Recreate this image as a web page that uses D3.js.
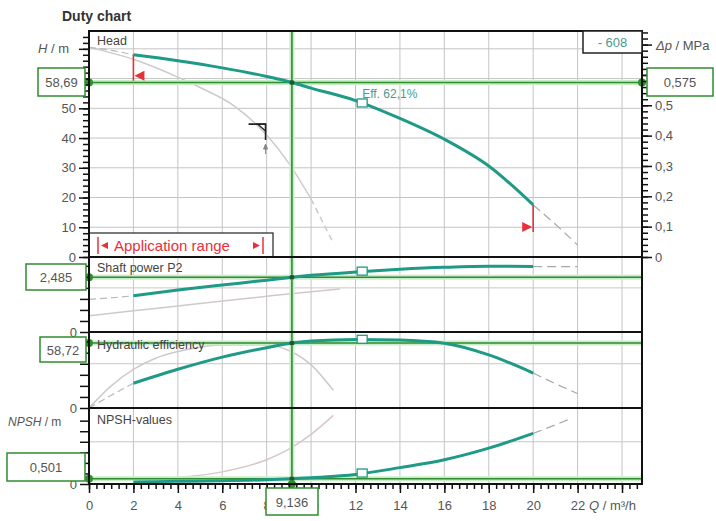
<!DOCTYPE html>
<html>
<head>
<meta charset="utf-8">
<script src="https://cdn.jsdelivr.net/npm/d3@7"></script>
<style>
body{margin:0;background:#fff}
text{font-family:"Liberation Sans",Arial,sans-serif}
</style>
</head>
<body>
<div id="chart"></div>
<script>

// curve values (Q in m3/h)

var qMain = [2, 4, 6, 8, 9.136, 10, 12, 14, 16, 18, 20],
    headMain = [68, 66, 63.6, 60.7, 58.69, 56.8, 52.6, 46.6, 39.6, 30.6, 17.5],
    powerMain = [1.64, 1.9, 2.13, 2.35, 2.485, 2.57, 2.72, 2.84, 2.93, 2.98, 2.97],
    effMain = [22.4, 35, 46, 54.5, 58.72, 60.5, 62, 61.5, 58.5, 48, 31.6],
    npshMain = [0.2, 0.25, 0.3, 0.4, 0.5, 0.6, 0.9, 1.55, 2.3, 3.4, 4.8];

// dashed extensions outside the application range
var qStart = [0, 1, 2],
    headStart = [70.5, 69.5, 68],
    powerStart = [1.48, 1.55, 1.64],
    effStart = [0, 11.5, 22.4],
    qEnd = [20, 21, 22],
    headEnd = [17.5, 11, 4],
    powerEnd = [2.97, 2.96, 2.96],
    effEnd = [31.6, 22, 13],
    qEndN = [20, 21, 21.7],
    npshEnd = [4.8, 5.6, 6.2];

// the faint second set of curves
var qLowHead = [0, 2, 4, 5, 6.5, 8, 9, 10, 11],
    headLow = [70.5, 66.5, 60.5, 57, 51, 41, 31.5, 19.5, 4.7],
    qLowPow = [0, 2, 4, 6, 8, 10, 11.3],
    powerLow = [0.73, 0.96, 1.18, 1.4, 1.62, 1.83, 1.95],
    qLowEff = [0, 1, 2, 3, 4, 6, 8, 9, 10, 11],
    effLow = [0, 20, 35, 45, 51, 57, 57, 52, 39, 16],
    qLowN = [2, 4, 6, 8, 9, 10, 11],
    npshLow = [0.3, 0.6, 1.15, 2.3, 3.3, 4.7, 6.5];

// duty point and best efficiency point
var dutyQ = 9.136, dutyH = 58.69, dutyDp = 0.575, dutyP = 2.485, dutyEff = 58.72, dutyN = 0.501;
var bepQ = 12.3, bepH = 51.8, bepP = 2.76, bepEff = 62.1, bepN = 1.04;

var qTicks = d3.range(0, 25, 2),
    headTicks = d3.range(0, 61, 10),
    dpTicks = [0, 0.1, 0.2, 0.3, 0.4, 0.5];

var svg = d3.select('#chart').append('svg')
    .attr('width', 716)
    .attr('height', 521);

var x = d3.scaleLinear().domain([0, 24.9]).range([89, 642]),
    yHead = d3.scaleLinear().domain([0, 76]).range([257, 31]),
    yDp = d3.scaleLinear().domain([0, 76 * 0.0098]).range([257, 31]),
    yPow = d3.scaleLinear().domain([0, 3.4]).range([332, 257]),
    yEff = d3.scaleLinear().domain([0, 68.7]).range([408, 332]),
    yNpsh = d3.scaleLinear().domain([0, 7.2]).range([484, 408]);

var comma = function(v){ return String(v).replace('.', ','); };

var teal = '#1f9a86', grid = '#c4c4c4', faint = '#cfcaca',
    green = '#2f8c2f', textCol = '#555';

// grid
svg.append('g').selectAll('line').data(qTicks.slice(1))
    .join('line')
    .attr('x1', d => x(d)).attr('x2', d => x(d))
    .attr('y1', 31).attr('y2', 484)
    .attr('stroke', grid);

svg.append('g').selectAll('line').data(d3.range(10, 71, 10))
    .join('line')
    .attr('x1', 89).attr('x2', 642)
    .attr('y1', d => yHead(d)).attr('y2', d => yHead(d))
    .attr('stroke', grid);

[[yPow, 2], [yEff, 40], [yNpsh, 4]].forEach(function(g){
    svg.append('line')
        .attr('x1', 89).attr('x2', 642)
        .attr('y1', g[0](g[1])).attr('y2', g[0](g[1]))
        .attr('stroke', '#cfc4c4');
});

// application range box
svg.append('rect')
    .attr('x', 89).attr('y', 233).attr('width', 184).attr('height', 24)
    .attr('fill', '#fff').attr('stroke', '#222').attr('stroke-width', 1.2);
svg.append('line').attr('x1', 98).attr('x2', 98).attr('y1', 237).attr('y2', 254)
    .attr('stroke', '#e8303a').attr('stroke-width', 1.5);
svg.append('line').attr('x1', 263).attr('x2', 263).attr('y1', 237).attr('y2', 254)
    .attr('stroke', '#e8303a').attr('stroke-width', 1.5);
svg.append('path').attr('d', 'M101,245.5L108,242L108,249Z').attr('fill', '#e8303a');
svg.append('path').attr('d', 'M260,245.5L253,242L253,249Z').attr('fill', '#e8303a');
svg.append('text').attr('x', 114).attr('y', 251)
    .attr('font-size', 15).attr('fill', '#e8303a')
    .text('Application range');

// curves
function curve(xs, ys, yScale, color, w, dash){
    var pts = xs.map((q, i) => ({x: q, y: ys[i]}));
    svg.append('path')
        .datum(pts)
        .attr('d', d3.line().curve(d3.curveMonotoneX)
            .x(d => x(d.x))
            .y(d => yScale(d.y)))
        .attr('fill', 'none')
        .attr('stroke', color)
        .attr('stroke-width', w)
        .attr('stroke-dasharray', dash || null);
}

curve(qLowHead.slice(0, 8), headLow.slice(0, 8), yHead, faint, 1.5);
curve(qLowHead.slice(7), headLow.slice(7), yHead, faint, 1.5, '6,4');
curve(qLowPow, powerLow, yPow, faint, 1.5);
curve(qLowEff, effLow, yEff, faint, 1.5);
curve(qLowN, npshLow, yNpsh, '#d8c6c8', 1.5);

curve(qStart, headStart, yHead, '#b8b8b8', 1.2, '7,4');
curve(qStart, powerStart, yPow, '#b8b8b8', 1.2, '7,4');
curve(qStart, effStart, yEff, '#b8b8b8', 1.2, '7,4');
curve(qEnd, headEnd, yHead, '#a8a8a8', 1.2, '9,5');
curve(qEnd, powerEnd, yPow, '#a8a8a8', 1.2, '9,5');
curve(qEnd, effEnd, yEff, '#a8a8a8', 1.2, '9,5');
curve(qEndN, npshEnd, yNpsh, '#a8a8a8', 1.2, '9,5');

// duty lines (light halo under a dark green line)
function greenH(y){
    svg.append('line').attr('x1', 89).attr('x2', 642).attr('y1', y).attr('y2', y)
        .attr('stroke', '#c8ecc8').attr('stroke-width', 5);
    svg.append('line').attr('x1', 89).attr('x2', 642).attr('y1', y).attr('y2', y)
        .attr('stroke', green).attr('stroke-width', 1.6);
}
svg.append('line').attr('x1', x(dutyQ)).attr('x2', x(dutyQ)).attr('y1', 31).attr('y2', 484)
    .attr('stroke', '#c8ecc8').attr('stroke-width', 5);
svg.append('line').attr('x1', x(dutyQ)).attr('x2', x(dutyQ)).attr('y1', 31).attr('y2', 484)
    .attr('stroke', green).attr('stroke-width', 1.6);
greenH(yHead(dutyH));
greenH(yPow(dutyP));
greenH(yEff(dutyEff));
greenH(yNpsh(dutyN));

curve(qMain, headMain, yHead, teal, 3);
curve(qMain, powerMain, yPow, teal, 3);
curve(qMain, effMain, yEff, teal, 3);
curve(qMain, npshMain, yNpsh, teal, 3);

// best efficiency markers
[[yHead, bepH], [yPow, bepP], [yEff, bepEff], [yNpsh, bepN]].forEach(function(m){
    svg.append('rect')
        .attr('x', x(bepQ) - 5).attr('y', m[0](m[1]) - 4)
        .attr('width', 10).attr('height', 8)
        .attr('fill', '#fff').attr('stroke', teal).attr('stroke-width', 1.3);
});
svg.append('text').attr('x', x(bepQ)).attr('y', 98)
    .attr('font-size', 12).attr('fill', '#4a9a90')
    .text('Eff.  62,1%');

// duty point dots
[[yHead, dutyH], [yPow, dutyP], [yEff, dutyEff], [yNpsh, dutyN]].forEach(function(m){
    svg.append('circle').attr('cx', x(dutyQ)).attr('cy', m[0](m[1])).attr('r', 2.5).attr('fill', '#1d5a2a');
    svg.append('circle').attr('cx', 89).attr('cy', m[0](m[1])).attr('r', 4).attr('fill', green);
});
svg.append('circle').attr('cx', 642).attr('cy', yHead(dutyH)).attr('r', 4).attr('fill', green);
svg.append('circle').attr('cx', x(dutyQ)).attr('cy', 484).attr('r', 4).attr('fill', green);

// application range limits on the head curve
svg.append('line').attr('x1', x(2)).attr('x2', x(2))
    .attr('y1', yHead(headMain[0])).attr('y2', yHead(headMain[0]) + 26)
    .attr('stroke', '#e8303a').attr('stroke-width', 1.6);
svg.append('path')
    .attr('d', 'M' + (x(2) + 1) + ',' + (yHead(headMain[0]) + 21) + 'l10,-5l0,10Z')
    .attr('fill', '#e8303a');
svg.append('line').attr('x1', x(20)).attr('x2', x(20))
    .attr('y1', yHead(17.5)).attr('y2', yHead(17.5) + 27)
    .attr('stroke', '#e8303a').attr('stroke-width', 1.6);
svg.append('path')
    .attr('d', 'M' + (x(20) - 1) + ',' + (yHead(17.5) + 22) + 'l-10,-5l0,10Z')
    .attr('fill', '#e8303a');

// small flag mark on the faint head curve
var fx = x(7.95), fy = yHead(44.7);
svg.append('path')
    .attr('d', 'M' + (fx - 17) + ',' + fy + 'L' + fx + ',' + fy + 'L' + fx + ',' + (fy + 16))
    .attr('fill', 'none').attr('stroke', '#222').attr('stroke-width', 1.6);
svg.append('path')
    .attr('d', 'M' + (fx - 8) + ',' + fy + 'L' + fx + ',' + fy + 'L' + fx + ',' + (fy + 7) + 'Z')
    .attr('fill', 'none').attr('stroke', '#222').attr('stroke-width', 1.2);
svg.append('path')
    .attr('d', 'M' + fx + ',' + (fy + 20) + 'l-2,5l4,0Z M' + fx + ',' + (fy + 24) + 'l0,6')
    .attr('stroke', '#888').attr('fill', '#888').attr('stroke-width', 1);

// axes
function styleAxis(g){
    g.select('.domain').remove();
    g.selectAll('line').attr('stroke', '#111').attr('stroke-width', 1.5);
    g.selectAll('text').attr('fill', textCol).attr('font-size', 13)
        .attr('font-family', '"Liberation Sans",Arial,sans-serif');
}

svg.append('g').attr('transform', 'translate(89,0)')
    .call(d3.axisLeft(yHead).tickValues(d3.range(0, 75, 2)).tickSize(6).tickFormat(''))
    .call(styleAxis);
svg.append('g').attr('transform', 'translate(89,0)')
    .call(d3.axisLeft(yHead).tickValues(headTicks.concat([70])).tickSize(10).tickPadding(3)
        .tickFormat(d => d == 70 ? '' : d))
    .call(styleAxis);

svg.append('g').attr('transform', 'translate(642,0)')
    .call(d3.axisRight(yDp).tickValues(d3.range(0, 0.741, 0.02)).tickSize(6).tickFormat(''))
    .call(styleAxis);
svg.append('g').attr('transform', 'translate(642,0)')
    .call(d3.axisRight(yDp).tickValues(dpTicks.concat([0.6, 0.7])).tickSize(10).tickPadding(3)
        .tickFormat(d => d > 0.55 ? '' : comma(d)))
    .call(styleAxis);

svg.append('g').attr('transform', 'translate(89,0)')
    .call(d3.axisLeft(yPow).tickValues(d3.range(0, 3.4, 0.5)).tickSize(9).tickPadding(3)
        .tickFormat(d => d == 0 ? '0' : ''))
    .call(styleAxis);
svg.append('g').attr('transform', 'translate(89,0)')
    .call(d3.axisLeft(yEff).tickValues(d3.range(0, 61, 10)).tickSize(9).tickPadding(3)
        .tickFormat(d => d == 0 ? '0' : ''))
    .call(styleAxis);
svg.append('g').attr('transform', 'translate(89,0)')
    .call(d3.axisLeft(yNpsh).tickValues(d3.range(0, 7, 1)).tickSize(9).tickPadding(3)
        .tickFormat(d => d == 0 ? '0' : ''))
    .call(styleAxis);

svg.append('g').attr('transform', 'translate(0,484)')
    .call(d3.axisBottom(x).tickValues(d3.range(0, 24.8, 1 / 3)).tickSize(5).tickFormat(''))
    .call(styleAxis);
svg.append('g').attr('transform', 'translate(0,484)')
    .call(d3.axisBottom(x).tickValues(qTicks).tickSize(9).tickPadding(8)
        .tickFormat(d => d == 24 ? '' : d))
    .call(styleAxis);

// frame and panel dividers
svg.append('rect').attr('x', 89).attr('y', 31).attr('width', 553).attr('height', 453)
    .attr('fill', 'none').attr('stroke', '#111').attr('stroke-width', 2);
[257, 332, 408].forEach(function(y){
    svg.append('line').attr('x1', 89).attr('x2', 642).attr('y1', y).attr('y2', y)
        .attr('stroke', '#111').attr('stroke-width', 2);
});

// axis titles
svg.append('text').attr('x', 62).attr('y', 21)
    .attr('font-size', 14).attr('font-weight', 'bold').attr('fill', '#333')
    .text('Duty chart');

var ht = svg.append('text').attr('x', 38).attr('y', 53).attr('font-size', 13).attr('fill', textCol);
ht.append('tspan').attr('font-style', 'italic').text('H');
ht.append('tspan').text(' / m');

var dt = svg.append('text').attr('x', 656).attr('y', 50).attr('font-size', 13).attr('fill', textCol);
dt.append('tspan').attr('font-style', 'italic').text('\u0394p');
dt.append('tspan').text(' / MPa');

var nt = svg.append('text').attr('x', 8).attr('y', 426).attr('font-size', 12).attr('fill', textCol);
nt.append('tspan').attr('font-style', 'italic').text('NPSH');
nt.append('tspan').text('   / m');

var qt = svg.append('text').attr('x', x(24) - 33).attr('y', 510).attr('font-size', 13).attr('fill', textCol);
qt.append('tspan').attr('font-style', 'italic').text('Q');
qt.append('tspan').text(' / m\u00b3/h');

// panel names
[['Head', 45], ['Shaft power P2', 272], ['Hydraulic efficiency', 349], ['NPSH-values', 424]]
    .forEach(function(l){
        svg.append('text').attr('x', 97).attr('y', l[1])
            .attr('font-size', 12.5).attr('fill', '#444').text(l[0]);
    });

// value boxes
function valueBox(bx, by, w, h, label, stroke, col){
    svg.append('rect').attr('x', bx).attr('y', by).attr('width', w).attr('height', h)
        .attr('fill', '#fff').attr('stroke', stroke || green).attr('stroke-width', 1.5);
    svg.append('text').attr('x', bx + w / 2).attr('y', by + h / 2 + 5)
        .attr('text-anchor', 'middle').attr('font-size', 13).attr('fill', col || textCol)
        .text(label);
}
valueBox(38, 68, 47, 28, comma(dutyH));
valueBox(647, 68, 66, 28, comma(dutyDp));
valueBox(26, 264, 60, 26, comma(dutyP));
valueBox(40, 337, 46, 25, comma(dutyEff));
valueBox(7, 453, 78, 28, comma(dutyN));
valueBox(266, 488, 52, 27, comma(dutyQ));
valueBox(583, 31, 59, 22, '- 608', '#222', '#4a9a90');

</script>
</body>
</html>
